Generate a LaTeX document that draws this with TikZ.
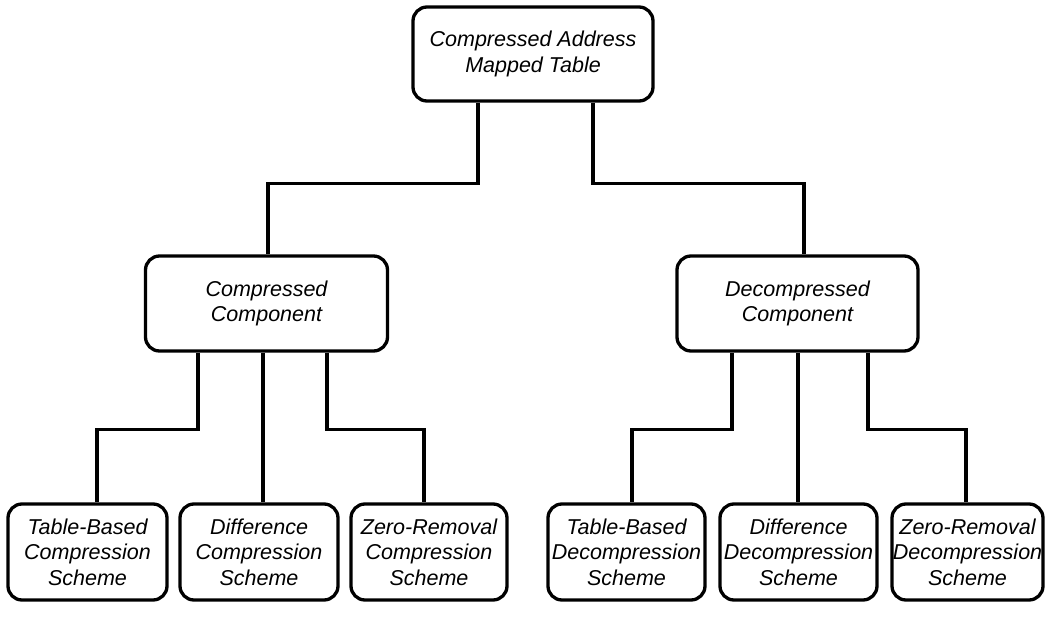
\documentclass[tikz,border=0pt]{standalone}
\usepackage{fontspec}
\setmainfont{Liberation Sans}
\begin{document}
\begin{tikzpicture}[x=1pt,y=-1pt,
  box/.style={draw=black, line width=3.3pt, rounded corners=14pt, fill=white,
    align=center, inner sep=0pt, font=\fontsize{21.5}{25.5}\selectfont\itshape},
  topbox/.style={box, minimum width=240pt, minimum height=94pt},
  midbox/.style={box, minimum width=242pt, minimum height=95pt},
  leafbox/.style={box, minimum height=96pt},
  link/.style={draw=black, line width=3.3pt}]
\useasboundingbox (0,0) rectangle (1045,637);
% nodes
\node[topbox] (top) at (533,54) {Compressed Address\\Mapped Table};
\node[midbox] (cc) at (266.5,303.5) {Compressed\\Component};
\node[midbox, minimum width=241pt] (dc) at (797.5,303.5) {Decompressed\\Component};
\node[leafbox, minimum width=159pt] (b1) at (87.5,552) {Table-Based\\Compression\\Scheme};
\node[leafbox, minimum width=158pt] (b2) at (259,552) {Difference\\Compression\\Scheme};
\node[leafbox, minimum width=156pt] (b3) at (429,552) {Zero-Removal\\Compression\\Scheme};
\node[leafbox, minimum width=157pt] (b4) at (626.5,552) {Table-Based\\Decompression\\Scheme};
\node[leafbox, minimum width=157pt] (b5) at (798.5,552) {Difference\\Decompression\\Scheme};
\node[leafbox, minimum width=151pt] (b6) at (967.5,552) {Zero-Removal\\Decompression\\Scheme};
% connectors
\draw[link] ([xshift=-55pt]top.south) -- ++(0,81) -| ([xshift=1.5pt]cc.north);
\draw[link] ([xshift=60pt]top.south) -- ++(0,81) -| ([xshift=6.5pt]dc.north);
\draw[link] ([xshift=-68.5pt]cc.south) -- ++(0,77) -| ([xshift=9.5pt]b1.north);
\draw[link] ([xshift=-3.5pt]cc.south) -- ([xshift=4pt]b2.north);
\draw[link] ([xshift=60.5pt]cc.south) -- ++(0,77) -| ([xshift=-5pt]b3.north);
\draw[link] ([xshift=-65.5pt]dc.south) -- ++(0,77) -| ([xshift=5.5pt]b4.north);
\draw[link] ([xshift=0.5pt]dc.south) -- ([xshift=-0.5pt]b5.north);
\draw[link] ([xshift=70.5pt]dc.south) -- ++(0,77) -| ([xshift=-1.5pt]b6.north);
\end{tikzpicture}
\end{document}
